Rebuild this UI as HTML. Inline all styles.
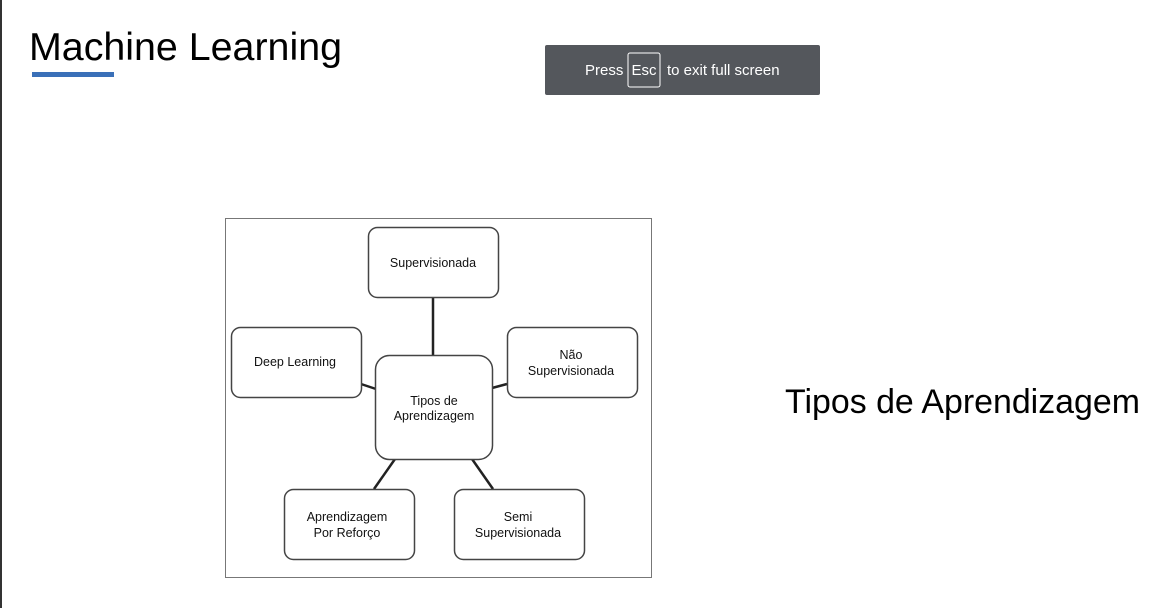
<!DOCTYPE html>
<html><head><meta charset="utf-8"><style>
html,body{margin:0;padding:0;background:#fff;width:1170px;height:608px;overflow:hidden}
</style></head><body>
<svg width="1170" height="608" viewBox="0 0 1170 608" xmlns="http://www.w3.org/2000/svg" font-family="Liberation Sans, Arial, sans-serif">
<rect x="0" y="0" width="2" height="608" fill="#333"/>
<text x="29" y="60" font-size="39" fill="#000" textLength="313" lengthAdjust="spacingAndGlyphs">Machine Learning</text>
<rect x="32" y="72" width="82" height="5" fill="#3a70b8"/>
<rect x="545" y="45" width="275" height="50" rx="2" fill="#54575c"/>
<text x="585" y="75" font-size="15" fill="#fff">Press</text>
<rect x="628" y="53" width="32" height="34" rx="2" fill="none" stroke="#fff" stroke-width="1"/>
<text x="644" y="75" font-size="15" fill="#fff" text-anchor="middle">Esc</text>
<text x="667" y="75" font-size="15" fill="#fff">to exit full screen</text>
<rect x="225.5" y="218.5" width="426" height="359" fill="#fff" stroke="#777" stroke-width="1"/>
<g stroke="#222" stroke-width="2.5">
<line x1="433" y1="298" x2="433" y2="356"/>
<line x1="361" y1="384" x2="376" y2="389"/>
<line x1="492" y1="388" x2="507" y2="384"/>
<line x1="395" y1="459" x2="374" y2="489"/>
<line x1="472" y1="459" x2="493" y2="489"/>
</g>
<g fill="#fff" stroke="#444" stroke-width="1.5">
<rect x="368.5" y="227.5" width="130" height="70" rx="9"/>
<rect x="231.5" y="327.5" width="130" height="70" rx="9"/>
<rect x="507.5" y="327.5" width="130" height="70" rx="9"/>
<rect x="375.5" y="355.5" width="117" height="104" rx="14"/>
<rect x="284.5" y="489.5" width="130" height="70" rx="9"/>
<rect x="454.5" y="489.5" width="130" height="70" rx="9"/>
</g>
<g font-size="12.5" fill="#111" text-anchor="middle">
<text x="433" y="267">Supervisionada</text>
<text x="295" y="366">Deep Learning</text>
<text x="571" y="359">Não</text>
<text x="571" y="375">Supervisionada</text>
<text x="434" y="405">Tipos de</text>
<text x="434" y="420">Aprendizagem</text>
<text x="347" y="521">Aprendizagem</text>
<text x="347" y="537">Por Reforço</text>
<text x="518" y="521">Semi</text>
<text x="518" y="537">Supervisionada</text>
</g>
<text x="785" y="413" font-size="34" fill="#000" textLength="355" lengthAdjust="spacingAndGlyphs">Tipos de Aprendizagem</text>
</svg>
</body></html>
